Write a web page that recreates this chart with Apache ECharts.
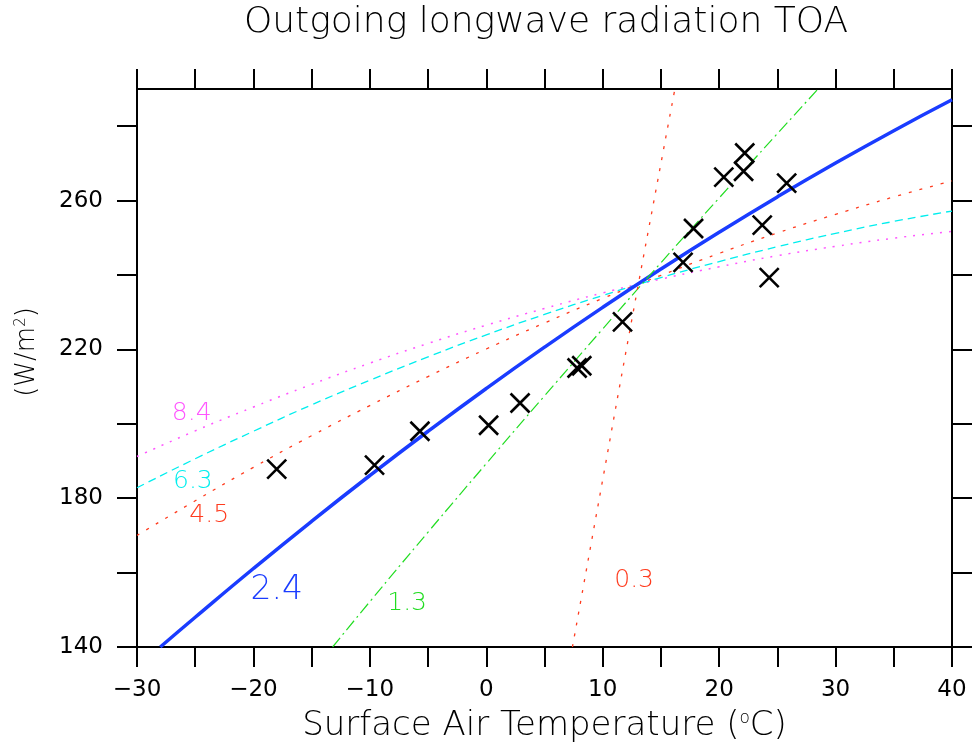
<!DOCTYPE html>
<html>
<head>
<meta charset="utf-8">
<script src="https://cdn.jsdelivr.net/npm/echarts@6/dist/echarts.min.js"></script>
<style>
  html, body { margin: 0; padding: 0; background: #fff; }
  #chart { width: 974px; height: 749px; }
</style>
</head>
<body>
<div id="chart"></div>
<script>
// axis ticks and labels
var xTickValues = [-30, -25, -20, -15, -10, -5, 0, 5, 10, 15, 20, 25, 30, 35, 40];
var xLabelValues = [-30, -20, -10, 0, 10, 20, 30, 40];
var yTickValues = [140, 160, 180, 200, 220, 240, 260, 280];
var yLabelValues = [140, 180, 220, 260];

// observed points (x marks)
var obsTemp = [-18.0, -9.6, -5.7, 0.2, 2.9, 7.8, 8.2, 11.7, 16.9, 17.8, 20.4, 22.1, 22.2, 23.7, 24.3, 25.8];
var obsOlr  = [187.8, 188.9, 198.0, 199.6, 205.6, 215.0, 215.6, 227.4, 243.4, 252.5, 266.3, 267.9, 272.8, 253.4, 239.3, 264.7];

// fitted curves
var fitTemp = [-30, -25, -20, -15, -10, -5, 0, 5, 10, 15, 20, 25, 30, 35, 40];
var olr84 = [191.2, 198.1, 204.5, 210.6, 216.3, 221.6, 226.5, 231.0, 235.2, 238.9, 242.2, 245.2, 247.7, 249.9, 251.7];
var olr63 = [182.8, 190.6, 198.0, 205.1, 211.7, 218.0, 223.9, 229.4, 234.5, 239.3, 243.6, 247.6, 251.2, 254.4, 257.2];
var olr45 = [170.0, 179.3, 188.3, 196.8, 204.9, 212.7, 220.1, 227.1, 233.7, 239.9, 245.8, 251.3, 256.3, 261.0, 265.3];

var temp24 = [-28, -25, -20, -15, -10, -5, 0, 5, 10, 15, 20, 25, 30, 35, 40];
var olr24  = [140.0, 148.0, 161.1, 173.8, 186.1, 198.0, 209.5, 220.6, 231.3, 241.6, 251.5, 261.0, 270.1, 278.8, 287.1];

var temp13 = [-13.2, -10, -5, 0, 5, 10, 15, 20, 25, 28.5];
var olr13  = [140.0, 152.2, 170.9, 189.3, 207.5, 225.5, 243.3, 260.7, 278.0, 290.0];

var temp03 = [7.4, 10, 12.5, 15, 16.2];
var olr03  = [140, 185, 228, 270, 290];

function zip (a, b) {
  return a.map(function (v, i) { return [v, b[i]]; });
}

function fmtNum (v) {
  return v < 0 ? '\u2212' + (-v) : String(v);
}

var FONT = 'DejaVu Sans';

function curveLabel (text, coord, color, size) {
  return {
    symbol: 'circle',
    symbolSize: 0,
    silent: true,
    label: {
      show: true,
      position: 'inside',
      formatter: text,
      color: color,
      fontSize: size,
      fontFamily: FONT,
      fontWeight: 200
    },
    data: [{ coord: coord }]
  };
}

function lineSeries (data, color, width, dash, text, coord, size) {
  return {
    type: 'line',
    data: data,
    showSymbol: false,
    smooth: true,
    silent: true,
    clip: true,
    lineStyle: { color: color, width: width, type: dash },
    markPoint: curveLabel(text, coord, color, size)
  };
}

var chart = echarts.init(document.getElementById('chart'));

var axisLineStyle = { color: '#000', width: 2 };
var supStyle = { fontSize: 17, fontFamily: FONT, fontWeight: 200, padding: [0, 0, 14, 0], color: '#000' };

var option = {
  backgroundColor: '#fff',
  animation: false,
  grid: { left: 137, right: 22, top: 89, bottom: 102 },
  graphic: [{
    type: 'text',
    x: 546,
    y: 5,
    style: {
      text: 'Outgoing longwave radiation TOA',
      fontFamily: FONT,
      fontWeight: 200,
      fontSize: 36,
      fill: '#000',
      textAlign: 'center',
      textVerticalAlign: 'top'
    }
  }],
  xAxis: [{
    type: 'value',
    min: -30,
    max: 40,
    interval: 10,
    position: 'bottom',
    axisLine: { show: true, onZero: false, lineStyle: axisLineStyle },
    axisTick: { show: true, length: 20, customValues: xTickValues, lineStyle: axisLineStyle },
    axisLabel: { customValues: xLabelValues, formatter: fmtNum, fontSize: 23, fontFamily: FONT, color: '#000', margin: 32 },
    splitLine: { show: false },
    name: 'Surface Air Temperature ({sup|o}C)',
    nameLocation: 'middle',
    nameGap: 62,
    nameTextStyle: {
      fontSize: 34, fontFamily: FONT, fontWeight: 200, color: '#000',
      rich: { sup: supStyle }
    }
  }, {
    type: 'value',
    min: -30,
    max: 40,
    interval: 10,
    position: 'top',
    axisLine: { show: true, onZero: false, lineStyle: axisLineStyle },
    axisTick: { show: true, length: 20, customValues: xTickValues, lineStyle: axisLineStyle },
    axisLabel: { show: false },
    splitLine: { show: false }
  }],
  yAxis: [{
    type: 'value',
    min: 140,
    max: 290,
    interval: 20,
    position: 'left',
    axisLine: { show: true, onZero: false, lineStyle: axisLineStyle },
    axisTick: { show: true, length: 20, customValues: yTickValues, lineStyle: axisLineStyle },
    axisLabel: { customValues: yLabelValues, fontSize: 23, fontFamily: FONT, color: '#000', margin: 34 },
    splitLine: { show: false },
    name: '(W/m{sup|2})',
    nameLocation: 'middle',
    nameGap: 96,
    nameTextStyle: {
      fontSize: 26, fontFamily: FONT, fontWeight: 200, color: '#000',
      padding: [0, 0, 0, 32],
      rich: { sup: { fontSize: 15, fontFamily: FONT, fontWeight: 200, padding: [0, 0, 12, 0], color: '#000' } }
    }
  }, {
    type: 'value',
    min: 140,
    max: 290,
    interval: 20,
    position: 'right',
    axisLine: { show: true, onZero: false, lineStyle: axisLineStyle },
    axisTick: { show: true, length: 20, customValues: yTickValues, lineStyle: axisLineStyle },
    axisLabel: { show: false },
    splitLine: { show: false }
  }],
  series: [
    lineSeries(zip(fitTemp, olr84), '#ff55ff', 1.5, [2, 7], '8.4', [-25.3, 202.9], 25),
    lineSeries(zip(fitTemp, olr63), '#00eeee', 1.3, [8, 5], '6.3', [-25.2, 184.5], 25),
    lineSeries(zip(fitTemp, olr45), '#ff3b1e', 1.3, [3, 8], '4.5', [-23.8, 175.4], 25),
    lineSeries(zip(temp24, olr24), '#1a3cff', 3.5, 'solid', '2.4', [-18.0, 155.1], 33),
    lineSeries(zip(temp13, olr13), '#22dd22', 1.2, [12, 4, 2, 4], '1.3', [-6.8, 151.6], 25),
    lineSeries(zip(temp03, olr03), '#ff3b1e', 1.3, [3, 8], '0.3', [12.7, 157.8], 25),
    {
      type: 'scatter',
      data: zip(obsTemp, obsOlr),
      symbol: 'path://M0,0L10,10M10,0L0,10',
      symbolSize: 19,
      silent: true,
      z: 5,
      itemStyle: { color: 'none', borderColor: '#000', borderWidth: 2.6, opacity: 1 }
    }
  ]
};

chart.setOption(option);
</script>
</body>
</html>
